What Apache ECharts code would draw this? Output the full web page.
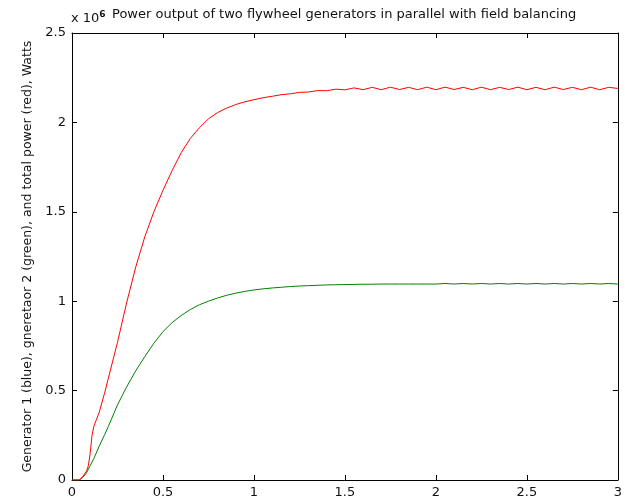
<!DOCTYPE html>
<html>
<head>
<meta charset="utf-8">
<script src="https://cdn.jsdelivr.net/npm/echarts@6/dist/echarts.min.js"></script>
<style>
  html, body { margin: 0; padding: 0; background: #fff; }
  #chart { width: 625px; height: 500px; }
</style>
</head>
<body>
<div id="chart"></div>
<script>
// time, seconds
const timeS = [
  0, 0.04, 0.06, 0.08, 0.09, 0.1, 0.11, 0.12, 0.15, 0.18, 0.2, 0.25, 0.3, 0.35, 0.4, 0.45,
  0.5, 0.55, 0.6, 0.65, 0.7, 0.75, 0.8, 0.85, 0.9, 0.95, 1.0,
  1.05, 1.1, 1.15, 1.2, 1.25, 1.3, 1.35, 1.4, 1.45, 1.5, 1.55, 1.6, 1.65, 1.7, 1.75, 1.8, 1.85, 1.9, 1.95, 2.0,
  2.05, 2.1, 2.15, 2.2, 2.25, 2.3, 2.35, 2.4, 2.45, 2.5, 2.55, 2.6, 2.65, 2.7, 2.75, 2.8, 2.85, 2.9, 2.95, 3.0
]

// power in units of 10^6 W
const gen2Power = [
  0, 0, 0.015, 0.04, 0.06, 0.08, 0.10, 0.12, 0.19, 0.255, 0.30, 0.42, 0.52, 0.61, 0.69, 0.765,
  0.83, 0.88, 0.92, 0.953, 0.98, 1.0, 1.018, 1.033, 1.045, 1.055, 1.063,
  1.069, 1.074, 1.078, 1.082, 1.085, 1.087, 1.089, 1.091, 1.092, 1.093, 1.094, 1.095, 1.095, 1.096, 1.096, 1.096, 1.096, 1.096, 1.096, 1.096,
  1.099, 1.096, 1.099, 1.096, 1.099, 1.096, 1.099, 1.096, 1.099, 1.096, 1.099, 1.096, 1.099, 1.096, 1.099, 1.096, 1.099, 1.096, 1.099, 1.096
]

const totalPower = [
  0, 0, 0.02, 0.05, 0.08, 0.15, 0.25, 0.30, 0.38, 0.49, 0.57, 0.77, 0.99, 1.19, 1.36, 1.50,
  1.62, 1.73, 1.83, 1.91, 1.97, 2.02, 2.055, 2.08, 2.10, 2.115, 2.127,
  2.138, 2.146, 2.155, 2.160, 2.168, 2.170, 2.178, 2.177, 2.186, 2.182, 2.193, 2.183, 2.196, 2.183, 2.197, 2.184, 2.196, 2.183, 2.197, 2.183,
  2.197, 2.184, 2.196, 2.183, 2.197, 2.183, 2.196, 2.184, 2.197, 2.183, 2.196, 2.183, 2.197, 2.184, 2.196, 2.183, 2.197, 2.183, 2.196, 2.190
]

const xTicks = { min: 0, max: 3, interval: 0.5 }
const yTicks = { min: 0, max: 2.5, interval: 0.5 }

const font = 'DejaVu Sans, Verdana, sans-serif'

const pairs = (ys) => timeS.map((t, i) => [t, ys[i]])

const boxAxis = (pos, range, showLabel) => ({
  type: 'value',
  position: pos,
  min: range.min,
  max: range.max,
  interval: range.interval,
  axisLine: { show: true, onZero: false, lineStyle: { color: '#000', width: 1 } },
  axisTick: { show: true, inside: true, length: 5, lineStyle: { color: '#000' } },
  axisLabel: { show: showLabel, color: '#111', fontFamily: font, fontSize: 13, margin: 6 },
  splitLine: { show: false }
})

const chart = echarts.init(document.getElementById('chart'))

const yMain = boxAxis('left', yTicks, true)
yMain.name = 'Generator 1 (blue), gneretaor 2 (green), and total power (red), Watts'
yMain.nameLocation = 'middle'
yMain.nameGap = 38
yMain.nameTextStyle = { color: '#111', fontFamily: font, fontSize: 12.5 }

chart.setOption({
  animation: false,
  backgroundColor: '#fff',
  grid: { left: 72, right: 4, top: 33, bottom: 20 },
  xAxis: [boxAxis('bottom', xTicks, true), boxAxis('top', xTicks, false)],
  yAxis: [yMain, boxAxis('right', yTicks, false)],
  graphic: [
    {
      type: 'text', left: 112, top: 8,
      style: { text: 'Power output of two flywheel generators in parallel with field balancing', fill: '#111', font: '13px ' + font }
    },
    {
      type: 'text', left: 71, top: 10,
      style: {
        text: 'x 10{sup|6}', fill: '#111', font: '13px ' + font,
        rich: { sup: { fontSize: 9, fontWeight: 'bold', verticalAlign: 'top', padding: [0, 0, 8, 0], fontFamily: font } }
      }
    }
  ],
  series: [
    {
      name: 'gen2', type: 'line', data: pairs(gen2Power), showSymbol: false,
      lineStyle: { color: '#008000', width: 1 }, z: 2
    },
    {
      name: 'total', type: 'line', data: pairs(totalPower), showSymbol: false,
      lineStyle: { color: '#ff0000', width: 1 }, z: 3
    }
  ]
})
</script>
</body>
</html>
